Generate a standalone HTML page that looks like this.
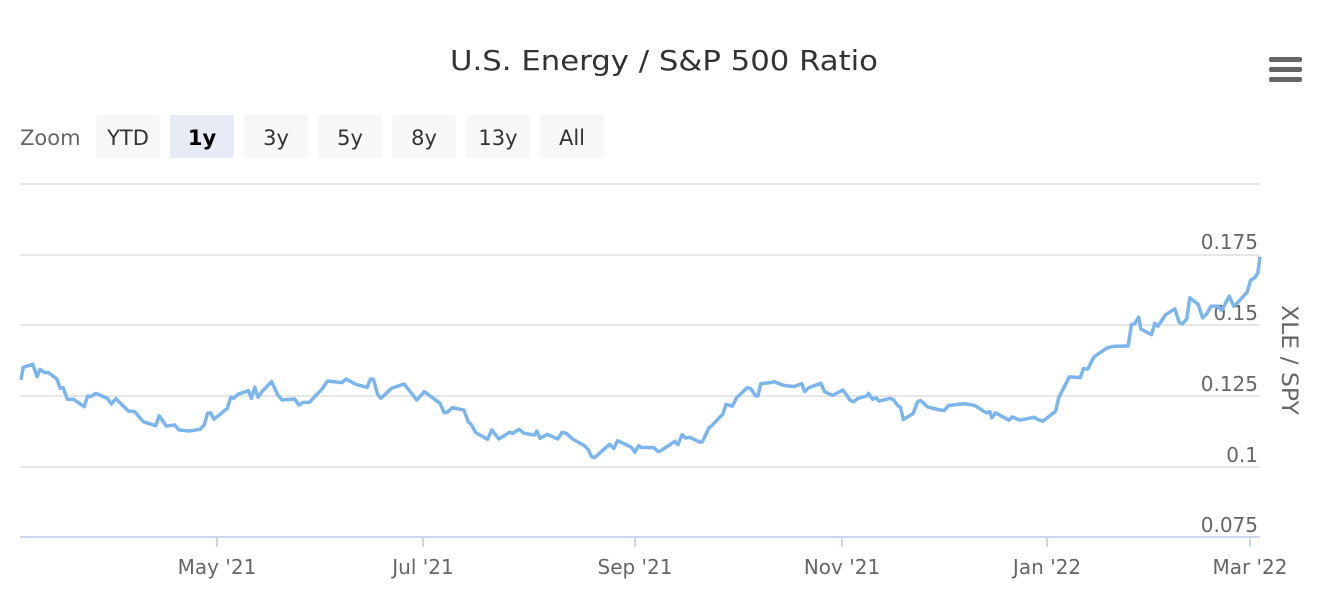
<!DOCTYPE html>
<html><head><meta charset="utf-8"><style>
body{margin:0;width:1326px;height:600px;background:#fff;font-family:"DejaVu Sans",sans-serif;overflow:hidden}
</style></head><body>
<svg width="1326" height="600" xmlns="http://www.w3.org/2000/svg" font-family="DejaVu Sans, sans-serif">
<text x="450" y="70" font-size="28" fill="#333" textLength="428" lengthAdjust="spacingAndGlyphs">U.S. Energy / S&amp;P 500 Ratio</text>
<g fill="#666"><rect x="1269" y="57" width="33" height="5" rx="2"/><rect x="1269" y="67" width="33" height="5" rx="2"/><rect x="1269" y="77" width="33" height="5" rx="2"/></g>
<text x="20" y="145" font-size="21" fill="#666">Zoom</text>
<g font-size="21" text-anchor="middle" fill="#333">
<rect x="96" y="115" width="64" height="43" rx="2" fill="#f7f7f7"/><text x="128" y="145">YTD</text>
<rect x="170" y="115" width="64" height="43" rx="2" fill="#e6ebf5"/><text x="202" y="145" font-weight="bold" fill="#000">1y</text>
<rect x="244" y="115" width="64" height="43" rx="2" fill="#f7f7f7"/><text x="276" y="145">3y</text>
<rect x="318" y="115" width="64" height="43" rx="2" fill="#f7f7f7"/><text x="350" y="145">5y</text>
<rect x="392" y="115" width="64" height="43" rx="2" fill="#f7f7f7"/><text x="424" y="145">8y</text>
<rect x="466" y="115" width="64" height="43" rx="2" fill="#f7f7f7"/><text x="498" y="145">13y</text>
<rect x="540" y="115" width="64" height="43" rx="2" fill="#f7f7f7"/><text x="572" y="145">All</text>
</g>
<g stroke="#e6e6e6" stroke-width="2">
<line x1="20" x2="1260" y1="184" y2="184"/><line x1="20" x2="1260" y1="255" y2="255"/><line x1="20" x2="1260" y1="325" y2="325"/><line x1="20" x2="1260" y1="396" y2="396"/><line x1="20" x2="1260" y1="467" y2="467"/>
</g>
<line x1="20" x2="1260" y1="537" y2="537" stroke="#ccd6eb" stroke-width="2"/>
<g stroke="#ccd6eb" stroke-width="2"><line x1="217" x2="217" y1="537" y2="547"/><line x1="423" x2="423" y1="537" y2="547"/><line x1="635" x2="635" y1="537" y2="547"/><line x1="842" x2="842" y1="537" y2="547"/><line x1="1047" x2="1047" y1="537" y2="547"/><line x1="1250" x2="1250" y1="537" y2="547"/></g>
<g font-size="20" fill="#666" text-anchor="middle">
<text x="217" y="574">May '21</text><text x="423" y="574">Jul '21</text><text x="635" y="574">Sep '21</text><text x="842" y="574">Nov '21</text><text x="1047" y="574">Jan '22</text><text x="1250" y="574">Mar '22</text>
</g>
<g font-size="20" fill="#666" text-anchor="end">
<text x="1258" y="249">0.175</text><text x="1258" y="320">0.15</text><text x="1258" y="391">0.125</text><text x="1258" y="462">0.1</text><text x="1258" y="532">0.075</text>
</g>
<text transform="translate(1282,305) rotate(90)" font-size="22" fill="#666" textLength="110" lengthAdjust="spacingAndGlyphs">XLE / SPY</text>
<g fill="none" stroke="#7cb5ec" stroke-width="3.5" stroke-linejoin="round">
<polyline vector-effect="non-scaling-stroke" transform="translate(0,340) scale(0.421,0.3333)" points="50,120 55,82 78,73 88,110 95,88 105,97 115,98 135,117 143,145 150,143 160,178 175,178 200,200 208,168 215,170 228,160 255,175 265,192 275,176 305,213 320,215 340,245 370,257 378,227 395,258 415,255 425,270 450,273 475,268 485,255 493,220 500,218 508,238 540,205 548,172 555,175 565,163 590,152 597,175 605,142 613,172 622,155 645,125 660,165 670,180 700,177 710,195 720,187 735,187 765,147 778,123 812,128 822,117 845,133 872,142 880,117 887,118 897,163 905,175 930,145 960,132 990,180 1008,155 1045,190 1055,218 1062,217 1075,203 1102,210 1112,245 1120,255 1130,278 1158,298 1168,270 1185,297 1210,277 1218,280 1233,268 1245,280 1270,285 1275,273 1283,295 1300,283 1325,297 1335,277 1345,280 1360,297 1388,317 1398,330 1405,350 1412,353 1440,322 1448,313 1458,325 1467,302 1500,322 1508,337 1517,317 1523,322 1553,323 1565,337"/>
<polyline vector-effect="non-scaling-stroke" transform="translate(660,240) scale(0.4255,0.3356)" points="-3,632 35,600 42,610 52,580 60,590 70,588 95,603 100,600 115,560 122,553 148,518 155,490 170,495 180,470 205,440 213,443 225,465 230,465 237,428 260,425 268,422 290,433 315,437 333,428 340,452 350,440 378,427 387,452 405,463 430,447 447,478 455,482 465,472 485,465 490,457 500,475 508,470 515,480 540,472 548,475 560,495 565,498 572,535 595,517 605,483 612,478 630,498 660,507 668,508 678,493 715,488 740,493 760,510 768,515 775,512 780,530 788,515 820,537 828,527 845,537 880,528 888,535 900,540 930,510 937,470 962,408 988,410 995,383 1005,385 1020,348 1050,322 1065,317 1100,316 1108,252 1115,250 1125,230 1130,265 1155,282 1163,248 1170,257 1188,223 1210,205 1220,245 1228,250 1238,235 1245,172 1265,192 1275,232 1285,220 1295,197 1310,197 1320,210 1338,167 1348,197 1355,190 1380,155 1388,120 1398,112 1405,98 1410,50"/>
</g>
</svg>
</body></html>
